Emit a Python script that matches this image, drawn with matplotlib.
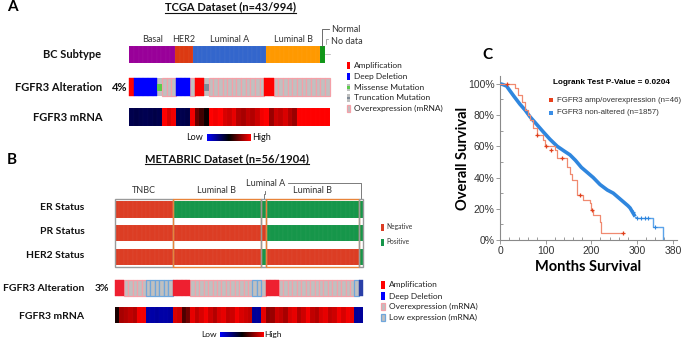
import matplotlib
matplotlib.use("Agg")
import matplotlib.pyplot as plt
import numpy as np
from matplotlib.patches import Rectangle
from matplotlib.colors import LinearSegmentedColormap, Normalize
from matplotlib.ticker import MultipleLocator, FixedLocator

# ------------------------------------------------------------------ DATA
tcga_title = "TCGA Dataset (n=43/994)"
tcga_subtype_names = ["Basal", "HER2", "Luminal A", "Luminal B", "Normal"]
tcga_subtype_counts = [10, 4, 16, 12, 1]
tcga_alteration_runs = [("A", 1), ("D", 5), ("M", 1), ("O", 3), ("D", 3), ("O", 1),
                        ("A", 2), ("T", 1), ("O", 12), ("A", 2), ("O", 12)]
tcga_mrna = [-0.3, -0.28, -0.3, -0.32, -0.3, -0.28, -0.3,
             1.0, 0.85, 0.95,
             -0.3, -0.3, -0.28,
             0.95,
             0.4, 0.25, 0.05,
             1.0, 0.95, 1.0, 0.85, 0.8, 0.9, 0.7, 0.65, 0.75, 0.7, 0.8,
             0.95, 1.0, 0.6, 0.8, 0.75, 0.85, 0.7, 0.6,
             1.0, 1.0, 1.0, 1.0, 1.0, 1.0, 1.0]
tcga_alt_pct = "4%"

metabric_title = "METABRIC Dataset (n=56/1904)"
metabric_group_names = ["TNBC", "Luminal B", "Luminal A", "Luminal B", "Luminal A"]
metabric_group_counts = [13, 20, 1, 21, 1]
metabric_er_runs = [("N", 13), ("P", 43)]
metabric_pr_runs = [("N", 34), ("P", 22)]
metabric_her2_runs = [("N", 33), ("P", 1), ("N", 21), ("P", 1)]
metabric_alteration_runs = [("A", 2), ("O", 5), ("L", 6), ("A", 4), ("O", 14), ("L", 2),
                            ("O", 1), ("A", 3), ("O", 17), ("L", 1), ("D", 1)]
metabric_mrna = [0.1, 0.65, 0.7, 0.75, 0.7, 0.95, 0.95, -0.65, -0.65, -0.62, -0.65, -0.65, -0.63,
                 0.85, 0.8, 0.3, 0.45, 0.9, 0.75, 0.85, 0.95, 0.8, 0.7, 0.85, 0.9, 0.75, 0.8,
                 0.95, 0.85, 0.8, 0.75, -0.6, -0.6,
                 0.9,
                 0.55, 0.6, 0.8, 0.75, 0.65, 0.85, 0.9, 0.7, 0.8, 0.95, 0.75, 0.7, 0.85, 0.9,
                 0.75, 0.8, 0.95, 0.85, 0.95, 0.9, -0.6,
                 -0.6]
metabric_alt_pct = "3%"

km_pvalue_text = "Logrank Test P-Value = 0.0204"
km_alt_label = "FGFR3 amp/overexpression (n=46)"
km_non_label = "FGFR3 non-altered (n=1857)"
km_alt_t = [0, 33, 38, 47, 54, 61, 66, 72, 80, 94, 98, 120, 124, 146, 153, 157, 168, 182,
            196, 199, 204, 219, 222, 270]
km_alt_s = [100, 97.4, 93, 88.6, 83.3, 80, 76.8, 72, 67.2, 64, 60.3, 57.7, 52.4, 46.9, 42,
            38.5, 28.9, 25.7, 23.6, 19.3, 16, 11.8, 4.3, 4.3]
km_alt_cens_t = [14, 80, 100, 112, 135, 175, 201, 270]
km_alt_cens_s = [100, 67.2, 60.3, 57.7, 52.4, 28.9, 19.3, 4.3]
# non-altered curve: dense part read as a smooth trace, then sparse tail steps
km_non_t = [0, 6, 10, 14, 20, 30, 43, 55, 65, 80, 95, 109, 125, 140, 153, 165, 178, 190, 204,
            219, 235, 248, 260, 270, 280, 285, 290, 296]
km_non_s = [100, 99.5, 99, 98.5, 96, 92, 87, 83, 79, 74, 69, 64.5, 60, 57, 54.5, 51, 46.5,
            43.5, 40, 35.5, 32, 30, 27, 24.5, 22, 20.5, 18, 15]
km_non_tail_t = [296, 300, 332, 335, 356, 358]
km_non_tail_s = [15, 14, 14, 8.5, 8.5, 0]
km_non_cens_t = [292, 300, 310, 318, 325, 340]
km_non_cens_s = [18, 14, 14, 14, 14, 8.5]
km_xticks = [0, 100, 200, 300, 380]
km_yticks = [0, 20, 40, 60, 80, 100]

# ------------------------------------------------------------------ STYLE
FONT = ["Lato", "DejaVu Sans"]
ARIAL = ["Liberation Sans", "DejaVu Sans"]
subtype_colors = {"Basal": "#990099", "HER2": "#DC3912", "Luminal A": "#3366CC",
                  "Luminal B": "#FF9900", "Normal": "#109618"}
status_colors = {"N": "#DC3D24", "P": "#16964A"}
GRAY = "#C0C0C0"
alt_pal_a = {"A": "#FF0000", "D": "#0000FF"}
alt_pal_b = {"A": "#EE2030", "D": "#2A3FA8"}
mrna_cmap = LinearSegmentedColormap.from_list("mrna", ["#0000FF", "#000000", "#FF0000"])
mnorm = Normalize(-1, 1)


def expand(runs):
    return [k for k, n in runs for _ in range(n)]


fig = plt.figure(figsize=(6.85, 3.4), dpi=100)
ax = fig.add_axes([0, 0, 1, 1])
ax.set_xlim(0, 685)
ax.set_ylim(340, 0)
ax.axis("off")


def cell_row(x0, x1, y0, y1, colors, ec=(1, 1, 1, 0.07), lw=0.3):
    n = len(colors)
    w = (x1 - x0) / n
    for i, c in enumerate(colors):
        ax.add_patch(Rectangle((x0 + i * w, y0), w, y1 - y0, fc=c, ec=ec, lw=lw))
    return w


def alteration_row(x0, x1, y0, y1, codes, pal):
    n = len(codes)
    w = (x1 - x0) / n
    h = y1 - y0
    for i, c in enumerate(codes):
        x = x0 + i * w
        if c in ("A", "D"):
            ax.add_patch(Rectangle((x, y0), w, h, fc=pal[c], ec=pal[c], lw=0.3, zorder=3))
        elif c == "O":
            ax.add_patch(Rectangle((x, y0), w, h, fc=GRAY, ec="#F4A0A8", lw=0.9, zorder=2))
        elif c == "L":
            ax.add_patch(Rectangle((x, y0), w, h, fc=GRAY, ec="#6FA6DC", lw=0.9, zorder=2.5))
        elif c == "M":
            ax.add_patch(Rectangle((x, y0), w, h, fc=GRAY, ec="none", zorder=2))
            ax.add_patch(Rectangle((x, y0 + h * 0.35), w, h * 0.35, fc="#5CCB4A", ec="none", zorder=3))
        elif c == "T":
            ax.add_patch(Rectangle((x, y0), w, h, fc=GRAY, ec="none", zorder=2))
            ax.add_patch(Rectangle((x, y0 + h * 0.35), w, h * 0.35, fc="#7F8A96", ec="none", zorder=3))


def underlined_title(x, y, s, size):
    t = ax.text(x, y, s, ha="center", va="center", fontsize=size, fontweight="bold",
                family=FONT, color="#111111")
    fig.canvas.draw()
    bb = t.get_window_extent().transformed(ax.transData.inverted())
    ax.plot([bb.x0, bb.x1], [bb.y0 + 0.3, bb.y0 + 0.3], color="#111111", lw=0.8)


def label(x, y, s, size, ha="right", weight="bold", color="#111111", fam=FONT):
    ax.text(x, y, s, ha=ha, va="center", fontsize=size, fontweight=weight, family=fam, color=color)


def gradient_bar(x0, x1, y0, y1):
    grad = np.linspace(-1, 1, 256).reshape(1, -1)
    ax.imshow(grad, cmap=mrna_cmap, norm=mnorm, extent=[x0, x1, y1, y0], aspect="auto", zorder=2)


# ------------------------------------------------------------------ PANEL A
ax.text(12, 7, "A", fontsize=11, fontweight="bold", family=FONT, va="center", ha="center")
underlined_title(231, 7, tcga_title, 8)

ax0, ax1 = 129.5, 325
subs = [n for n, k in zip(tcga_subtype_names, tcga_subtype_counts) for _ in range(k)]
w = cell_row(ax0, ax1, 46, 62.7, [subtype_colors[s] for s in subs])
pos = 0
for name, k in zip(tcga_subtype_names, tcga_subtype_counts):
    if name != "Normal":
        label(ax0 + (pos + k / 2) * w, 39, name, 6.5, ha="center", weight="normal", color="#333333")
    pos += k
ax.plot([329, 322.5, 322.5], [29, 29, 46], color="#555555", lw=0.6)
label(331, 29, "Normal", 6.5, ha="left", weight="normal", color="#333333")
ax.plot([328, 326.5, 326.5], [38.5, 38.5, 44], color="#888888", lw=0.5)
label(331, 41, "No data", 6.5, ha="left", weight="normal", color="#333333")
ax.plot([325.5, 330], [54.3, 54.3], color="#aaaaaa", lw=0.5)
label(101.5, 54.5, "BC Subtype", 8, )

alteration_row(129.5, 329.5, 78.3, 96, expand(tcga_alteration_runs), alt_pal_a)
label(102.5, 87.7, "FGFR3 Alteration", 8)
label(119.5, 87.7, tcga_alt_pct, 8, ha="center")

cell_row(129.5, 329.5, 107.7, 125.7, [mrna_cmap(mnorm(v)) for v in tcga_mrna], ec=(1, 1, 1, 0.04))
label(103, 117.7, "FGFR3 mRNA", 8)
gradient_bar(206.7, 250.7, 134.3, 141)
label(203.5, 137.7, "Low", 6.5, weight="normal")
label(252.5, 137.7, "High", 6.5, ha="left", weight="normal")

legA = [("Amplification", "A"), ("Deep Deletion", "D"), ("Missense Mutation", "M"),
        ("Truncation Mutation", "T"), ("Overexpression (mRNA)", "O")]
for (txt, code), yc in zip(legA, [65.7, 76.3, 87.3, 98, 108.7]):
    x0, hh = 347.3, 7.5
    if code in ("A", "D"):
        ax.add_patch(Rectangle((x0, yc - hh / 2), 3.2, hh, fc=alt_pal_a[code], ec="none"))
    elif code == "O":
        ax.add_patch(Rectangle((x0, yc - hh / 2), 3.2, hh, fc=GRAY, ec="#F4A0A8", lw=0.9))
    else:
        ax.add_patch(Rectangle((x0, yc - hh / 2), 3.2, hh, fc=GRAY, ec="none"))
        ax.add_patch(Rectangle((x0, yc - 1.3), 3.2, 2.6, fc="#5CCB4A" if code == "M" else "#7F8A96", ec="none"))
    label(354, yc, txt, 6, ha="left", weight="normal", color="#222222")

# ------------------------------------------------------------------ PANEL B
ax.text(12, 160, "B", fontsize=11, fontweight="bold", family=FONT, va="center", ha="center")
underlined_title(227, 158.3, metabric_title, 8)

bx0, bx1 = 115, 363.3
nB = len(metabric_mrna)
bw = (bx1 - bx0) / nB
rows = [(metabric_er_runs, 201, 218, "ER Status"), (metabric_pr_runs, 225, 241, "PR Status"),
        (metabric_her2_runs, 249, 265, "HER2 Status")]
for runs, y0, y1, name in rows:
    cell_row(bx0, bx1, y0, y1, [status_colors[c] for c in expand(runs)])
    label(84.5, (y0 + y1) / 2 - 1.5, name, 7.5)

pos = 0
for gi, (name, k) in enumerate(zip(metabric_group_names, metabric_group_counts)):
    gx0 = bx0 + pos * bw
    ec = "#E8843A" if name == "Luminal B" else "#9A9A9A"
    ax.add_patch(Rectangle((gx0, 198.5), k * bw, 68, fc="none", ec=ec, lw=1.0, zorder=4))
    if name != "Luminal A":
        label(gx0 + k * bw / 2, 190.7, name, 6.5, ha="center", weight="normal", color="#333333")
    pos += k
label(266, 183.3, "Luminal A", 6.5, ha="center", weight="normal", color="#333333")
ax.plot([263.8, 263.8, 265.5, 265.5], [198.5, 193.5, 193.5, 190.5], color="#666666", lw=0.6)
ax.plot([288, 361.5, 361.5], [183.3, 183.3, 198.5], color="#666666", lw=0.6)

alteration_row(bx0, bx1, 280, 296, expand(metabric_alteration_runs), alt_pal_b)
label(84.5, 288.3, "FGFR3 Alteration", 7.5)
label(101.7, 288.3, metabric_alt_pct, 7.5, ha="center")

cell_row(bx0, bx1, 307.3, 323.3, [mrna_cmap(mnorm(v)) for v in metabric_mrna], ec=(1, 1, 1, 0.04))
label(84.5, 316.7, "FGFR3 mRNA", 7.5)
gradient_bar(220, 263.3, 331.7, 336.7)
label(216.5, 334.2, "Low", 6, weight="normal")
label(264, 334.2, "High", 6, ha="left", weight="normal")

for txt, code, yc in [("Negative", "N", 227), ("Positive", "P", 242)]:
    ax.add_patch(Rectangle((381, yc - 3.5), 3, 7, fc=status_colors[code], ec="none"))
    label(386.7, yc, txt, 4.8, ha="left", weight="normal", color="#333333")

legB = [("Amplification", "A"), ("Deep Deletion", "D"), ("Overexpression (mRNA)", "O"),
        ("Low expression (mRNA)", "L")]
for (txt, code), yc in zip(legB, [285, 296, 306.7, 317.3]):
    x0, hh = 381.5, 7.5
    if code in ("A", "D"):
        ax.add_patch(Rectangle((x0, yc - hh / 2), 3.3, hh, fc="#FF0000" if code == "A" else "#0000FF", ec="none"))
    elif code == "O":
        ax.add_patch(Rectangle((x0, yc - hh / 2), 3.3, hh, fc=GRAY, ec="#F4A0A8", lw=0.9))
    else:
        ax.add_patch(Rectangle((x0, yc - hh / 2), 3.3, hh, fc=GRAY, ec="#6FA6DC", lw=0.9))
    label(389.3, yc, txt, 6, ha="left", weight="normal", color="#222222")

# ------------------------------------------------------------------ PANEL C
ax.text(487, 55, "C", fontsize=11, fontweight="bold", family=FONT, va="center", ha="center")
ax.text(553, 83, km_pvalue_text, fontsize=5.9, fontweight="bold", family=ARIAL, va="center", ha="left")
ax.add_patch(Rectangle((549, 97.9), 4.0, 4.0, fc="#E8401C", ec="none"))
ax.text(557, 100, km_alt_label, fontsize=5.7, family=ARIAL, va="center", ha="left", color="#333333")
ax.add_patch(Rectangle((549, 110.9), 4.0, 4.0, fc="#3A8EE6", ec="none"))
ax.text(557, 113, km_non_label, fontsize=5.7, family=ARIAL, va="center", ha="left", color="#333333")
ax.text(463, 158, "Overall Survival", fontsize=10.5, fontweight="bold", family=FONT,
        rotation=90, va="center", ha="center")
ax.text(588, 267, "Months Survival", fontsize=10.5, fontweight="bold", family=FONT,
        va="center", ha="center")

axc = fig.add_axes([500.3 / 685, 1 - 240 / 340, (677 - 500.3) / 685, (240 - 76) / 340])
axc.patch.set_alpha(0)
axc.set_xlim(0, 388)
axc.set_ylim(0, 105)
for s in ("top", "right"):
    axc.spines[s].set_visible(False)
for s in ("left", "bottom"):
    axc.spines[s].set_color("#8a8a8a")
    axc.spines[s].set_linewidth(0.8)
axc.xaxis.set_major_locator(FixedLocator(km_xticks))
axc.yaxis.set_major_locator(FixedLocator(km_yticks))
axc.xaxis.set_minor_locator(MultipleLocator(20))
axc.yaxis.set_minor_locator(MultipleLocator(10))
axc.set_yticklabels([f"{v}%" for v in km_yticks])
axc.tick_params(which="both", colors="#8a8a8a", labelcolor="#333333", labelsize=7.5, width=0.6)
axc.tick_params(which="major", length=3, pad=1)
axc.tick_params(which="minor", length=2, direction="in")
for lab in axc.get_xticklabels() + axc.get_yticklabels():
    lab.set_family(ARIAL)

axc.plot(km_non_tail_t, km_non_tail_s, drawstyle="steps-post", color="#5BA3EA", lw=1.0, zorder=3)
axc.plot(km_non_t, km_non_s, color="#2F86DE", lw=2.6, zorder=4, solid_capstyle="butt")
axc.plot(km_non_cens_t, km_non_cens_s, "+", color="#2F86DE", ms=3, mew=0.8, zorder=4)
axc.plot(km_alt_t, km_alt_s, drawstyle="steps-post", color="#F08A70", lw=0.9, zorder=5)
axc.plot(km_alt_cens_t, km_alt_cens_s, "+", color="#E0401C", ms=3, mew=0.9, zorder=6)

fig.savefig("out.png", dpi=100)
